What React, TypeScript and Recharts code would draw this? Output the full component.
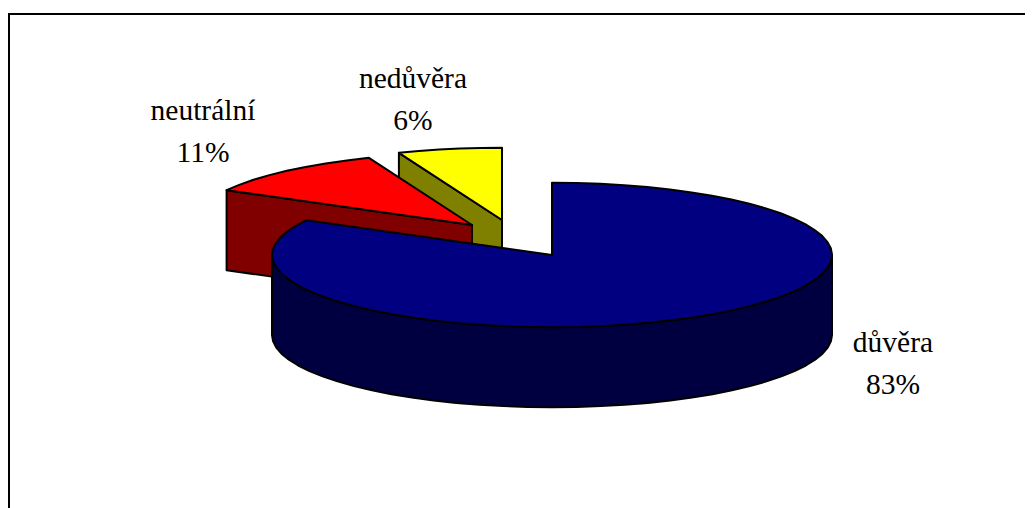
import { Pie, PieChart } from "recharts";

// drawn back to front, counter-clockwise from 12 o'clock
const labels = ["nedůvěra", "neutrální", "důvěra"];
const shares = [6, 11, 83];
const topColors = ["#FFFF00", "#FF0000", "#000080"];
const sideColors = ["#808000", "#800000", "#000040"];
const explodeX = [-50, -80, 0];
const explodeY = [-35, -30, 0];
const labelX = [405, 195, 885];
const labelY = [80, 112, 344];

const data = labels.map((name, i) => ({ name, value: shares[i], index: i }));

const WIDTH = 1025;
const HEIGHT = 500;
const CX = 544;
const CY = 247;
const RADIUS = 280;
const TILT = 0.258;
const DEPTH = 80;
const LINE_GAP = 42;
const FONT = "'Liberation Serif', 'Times New Roman', serif";

const rad = (deg: number) => (deg * Math.PI) / 180;

function arcPoints(cx: number, cy: number, r: number, from: number, to: number) {
    const pts: [number, number][] = [];
    const steps = Math.max(2, Math.ceil(Math.abs(to - from) / 5));
    for (let i = 0; i <= steps; i++) {
        const a = rad(from + ((to - from) * i) / steps);
        pts.push([cx + r * Math.cos(a), cy - r * TILT * Math.sin(a)]);
    }
    return pts;
}

const toPath = (pts: [number, number][]) =>
    "M" + pts.map((p) => p[0].toFixed(1) + " " + p[1].toFixed(1)).join("L") + "Z";

function Slice3D(props: any) {
    const { cx, cy, outerRadius, startAngle, endAngle, index } = props;
    const x = cx + explodeX[index];
    const y = cy + explodeY[index];
    const rim = arcPoints(x, y, outerRadius, startAngle, endAngle);
    const down = (pts: [number, number][]) =>
        pts.map((p) => [p[0], p[1] + DEPTH] as [number, number]);

    // front wall: the part of the rim that faces the viewer
    const frontFrom = Math.max(startAngle, 180);
    const frontTo = Math.min(endAngle, 360);
    const front = frontTo > frontFrom ? arcPoints(x, y, outerRadius, frontFrom, frontTo) : null;

    // the cut face that looks towards the viewer, only on the exploded slices
    const cut = rim[rim.length - 1];
    const cutFace: [number, number][] = [[x, y], cut, [cut[0], cut[1] + DEPTH], [x, y + DEPTH]];

    return (
        <g stroke="#000" strokeWidth={2} strokeLinejoin="round">
            {endAngle < 180 && <path d={toPath(cutFace)} fill={sideColors[index]} />}
            {front && (
                <path d={toPath([...front, ...down(front).reverse()])} fill={sideColors[index]} />
            )}
            <path d={toPath([[x, y], ...rim])} fill={topColors[index]} />
        </g>
    );
}

function SliceLabel(props: any) {
    const { index, value, name } = props;
    return (
        <text x={labelX[index]} textAnchor="middle" fontFamily={FONT} fontSize={29.5} fill="#000">
            <tspan x={labelX[index]} y={labelY[index]}>{name ?? labels[index]}</tspan>
            <tspan x={labelX[index]} y={labelY[index] + LINE_GAP}>{value}%</tspan>
        </text>
    );
}

export default function App() {
    return (
        <div style={{ width: WIDTH, height: HEIGHT, position: "relative" }}>
            <div
                style={{
                    position: "absolute",
                    left: 0,
                    top: 5,
                    width: WIDTH,
                    height: HEIGHT - 5,
                    borderLeft: "2px solid #000",
                    borderTop: "2px solid #000",
                    boxSizing: "border-box",
                }}
            />
            <PieChart
                width={WIDTH}
                height={HEIGHT}
                margin={{ top: 0, right: 0, bottom: 0, left: 0 }}
                style={{ position: "absolute", left: 0, top: 0 }}
            >
                <Pie
                    data={data}
                    dataKey="value"
                    nameKey="name"
                    cx={CX}
                    cy={CY}
                    innerRadius={0}
                    outerRadius={RADIUS}
                    startAngle={90}
                    endAngle={450}
                    paddingAngle={0}
                    stroke="none"
                    shape={Slice3D}
                    label={SliceLabel}
                    labelLine={false}
                    isAnimationActive={false}
                />
            </PieChart>
        </div>
    );
}
